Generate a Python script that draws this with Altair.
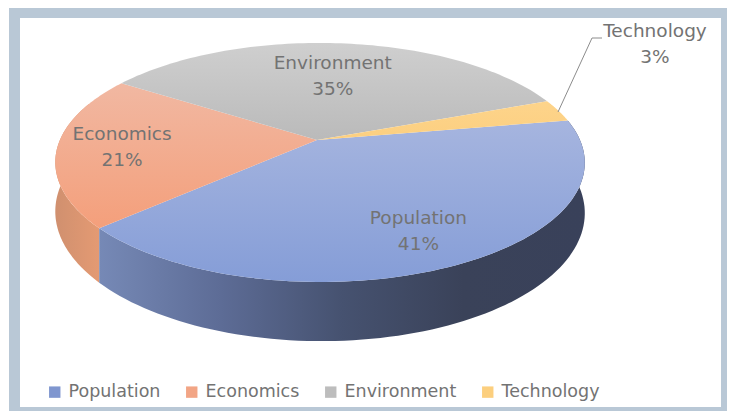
import math
import altair as alt
import pandas as pd

categories = ["Population", "Economics", "Environment", "Technology"]
shares = [41, 21, 35, 3]
legend_colors = ["#7f96cf", "#f2a585", "#bdbdbd", "#fccf7e"]
top_fills = [("#a6b5df", "#859dd7"), ("#f1b8a2", "#f49f7b"), ("#cfcfcf", "#bababa"), ("#fdd48b", "#fccf80")]
pop_wall = ["#7689b6", "#5d6c96", "#465270", "#3a4259", "#39415a"]
econ_wall = ["#d0906f", "#e49a73"]
start_angle = 80.0
label_radius = [0.766, 0.75, 0.625]

# perspective disc layout (pixels of the picture)
CX, CY, AX, BY, K, M, DEPTH = 317.0, 140.0, 260.0, 115.3, 0.188, 0.0113, 48.0
FONT = "DejaVu Sans"
TEXT = "#737373"


def project(theta, rho=1.0, drop=False):
    t = math.radians(theta)
    u, v = rho * math.sin(t), -rho * math.cos(t)
    w = 1 - K * v - M * u
    return CX + AX * u / w, CY + BY * v / w + (DEPTH / w if drop else 0)


spans = []
a = start_angle
for s in shares:
    spans.append((a, a + s * 3.6))
    a += s * 3.6


def sweep(a0, a1, n=90):
    return [a0 + (a1 - a0) * i / n for i in range(n + 1)]


def wedge(a0, a1):
    pts = [(CX, CY)] + [project(t) for t in sweep(a0, a1)]
    return pd.DataFrame([{"x": p[0], "y": p[1], "i": i} for i, p in enumerate(pts)])


def wall(a0, a1):
    ang = sweep(a0, a1)
    pts = [project(t) for t in ang] + [project(t, drop=True) for t in reversed(ang)]
    return pd.DataFrame([{"x": p[0], "y": p[1], "i": i} for i, p in enumerate(pts)])


X = alt.X("x:Q", scale=alt.Scale(domain=[8, 727], nice=False, zero=False), axis=None)
Y = alt.Y("y:Q", scale=alt.Scale(domain=[411, 8], nice=False, zero=False), axis=None)


def grad(colors, vertical):
    n = len(colors) - 1
    return alt.LinearGradient(
        gradient="linear",
        x1=0, y1=0,
        x2=0 if vertical else 1,
        y2=1 if vertical else 0,
        stops=[alt.GradientStop(color=c, offset=i / n) for i, c in enumerate(colors)],
    )


def poly(df, fill):
    return alt.Chart(df).mark_line(fill=fill, strokeWidth=0, strokeOpacity=0, interpolate="linear").encode(
        x=X, y=Y, order="i:Q"
    )


frame = alt.Chart(pd.DataFrame([{"x": 14.5, "x2": 726.5, "y": 12.5, "y2": 412.5}])).mark_rect(
    fill="white", stroke="#b9c8d6", strokeWidth=11
).encode(x=X, x2="x2:Q", y=Y, y2="y2:Q")

layers = [frame]
# visible outer walls: population and the front part of economics
layers.append(poly(wall(spans[1][0], spans[1][0] + 62), grad(econ_wall, False)))
layers.append(poly(wall(spans[0][0], spans[0][1]), grad(pop_wall, False)))
for (a0, a1), cs in zip(spans, top_fills):
    layers.append(poly(wedge(a0, a1), grad(list(cs), True)))

leader = pd.DataFrame({"x": [558, 592, 602], "y": [112, 38, 38], "i": [0, 1, 2]})
layers.append(alt.Chart(leader).mark_line(color="#8c8c8c", strokeWidth=1).encode(x=X, y=Y, order="i:Q"))

labels = []
for c, s, (a0, a1), r in zip(categories[:3], shares[:3], spans[:3], label_radius):
    px, py = project((a0 + a1) / 2, r)
    labels.append({"x": px, "y": py - 13, "t": f"{c}\n{s}%"})
labels.append({"x": 655, "y": 31, "t": f"{categories[3]}\n{shares[3]}%"})
layers.append(
    alt.Chart(pd.DataFrame(labels))
    .mark_text(font=FONT, fontSize=18.5, color=TEXT, lineBreak="\n", lineHeight=26, align="center", baseline="middle")
    .encode(x=X, y=Y, text="t:N")
)

legend = alt.Legend(
    orient="none", legendX=38, legendY=375, direction="horizontal", columns=4, title=None,
    symbolType="square", symbolSize=130, symbolStrokeWidth=0, symbolOpacity=1, labelFont=FONT, labelFontSize=17.5,
    labelColor=TEXT, labelOffset=5, columnPadding=22, padding=0,
)
layers.append(
    alt.Chart(pd.DataFrame({"c": categories}))
    .mark_square(size=0, opacity=1)
    .encode(
        x=alt.value(0), y=alt.value(0),
        color=alt.Color("c:N", scale=alt.Scale(domain=categories, range=legend_colors), sort=categories, legend=legend),
    )
)

chart = alt.layer(*layers).properties(
    width=719, height=403, padding=0, autosize=alt.AutoSizeParams(type="none")
).configure_view(stroke=None)

chart.save("out.html", embed_options={"renderer": "svg", "actions": False})
